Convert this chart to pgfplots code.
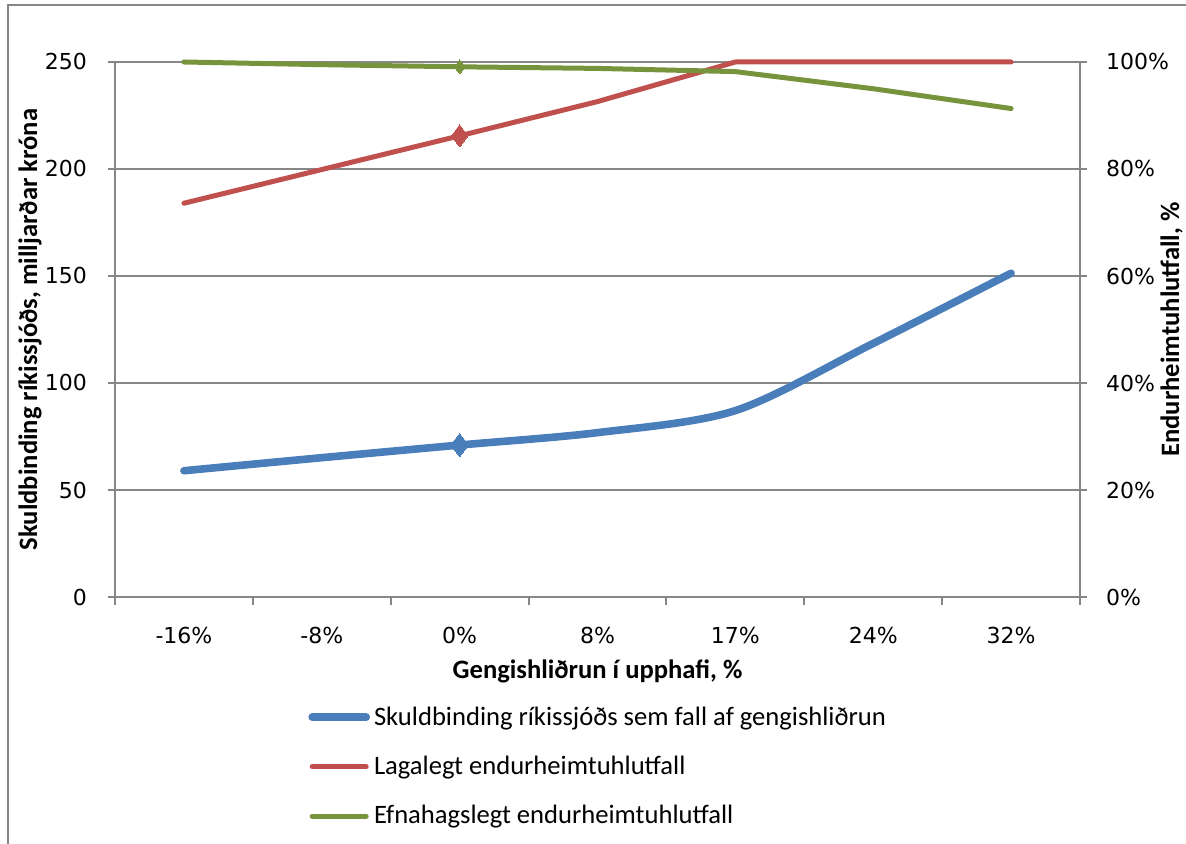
\documentclass[border=0pt]{standalone}
\usepackage{pgfplots}
\pgfplotsset{compat=1.18}
\usepackage{fontspec}
\setmainfont{Carlito}
\newfontfamily\dejavu{DejaVu Sans}
\definecolor{sblue}{HTML}{4A7EBB}
\definecolor{sred}{HTML}{C0504D}
\definecolor{sgreen}{HTML}{77933C}
\definecolor{gridgray}{HTML}{868686}
\pgfplotsset{
  common/.style={
    at={(57.5pt,123.5pt)}, anchor=south west,
    scale only axis, width=482.5pt, height=267.5pt,
    xmin=-0.5, xmax=6.5,
    axis line style={gridgray, line width=1pt},
    tick style={gridgray, line width=1pt},
    tick align=outside, major tick length=3.5pt, minor tick length=4pt,
    /pgf/number format/assume math mode=true,
    ticklabel style={font=\dejavu\fontsize{11}{13}\selectfont, text=black},
    label style={font=\bfseries\fontsize{13.3}{15}\selectfont},
  }
}
\begin{document}
\begin{tikzpicture}
\useasboundingbox (0,0) rectangle (593pt,422pt);
\draw[gridgray, line width=0.8pt] (4pt,0pt) -- (4pt,419.5pt) -- (593pt,419.5pt);
\begin{axis}[common,
  ymin=0, ymax=250,
  xtick={0,...,6},
  xticklabels={-16\%,-8\%,0\%,8\%,17\%,24\%,32\%},
  major x tick style={draw=none},
  minor xtick={-0.5,0.5,...,6.5},
  ytick={0,50,...,250},
  axis x line*=bottom, axis y line*=left,
  ymajorgrids, grid style={gridgray, line width=1pt},
  xticklabel style={yshift=-8pt},
  yticklabel style={xshift=-7pt},
  xlabel={Gengishliðrun í upphafi, \%},
  ylabel={Skuldbinding ríkissjóðs, milljarðar króna},
  xlabel style={at={(axis description cs:0.5,-0.140)}, anchor=center},
  ylabel style={at={(axis description cs:-0.088,0.5)}, anchor=center},
]
\addplot[sblue, line width=3.8pt, smooth, line cap=round, mark=diamond*, mark indices={3}, mark size=5.8pt, mark options={line width=0pt}]
  coordinates {(0,59.0) (1,65.1) (2,71.0) (3,76.8) (4,87.1) (5,118.5) (6,151.3)};
\end{axis}
\begin{axis}[common,
  ymin=0, ymax=100,
  axis y line*=right, axis x line=none,
  ytick={0,20,...,100},
  yticklabels={0\%,20\%,40\%,60\%,80\%,100\%},
  yticklabel style={xshift=6pt},
  ylabel={Endurheimtuhlutfall, \%},
  ylabel style={at={(axis description cs:1.095,0.5)}, anchor=center},
  clip=false,
  legend style={at={(axis description cs:0.2,-0.1965)}, anchor=north west,
    draw=none, fill=none, font=\fontsize{13.3}{15}\selectfont,
    row sep=10pt, inner sep=0pt,
    /tikz/every even column/.append style={column sep=1pt}},
  legend cell align=left,
  legend image code/.code={\draw[#1, line cap=round] (0pt,0pt) -- (27pt,0pt);},
]
\addlegendimage{sblue, line width=3.8pt}
\addlegendentry{Skuldbinding ríkissjóðs sem fall af gengishliðrun}
\addplot[sred, line width=2.5pt, line cap=round, line join=round, mark=diamond*, mark indices={3}, mark size=5.5pt, mark options={line width=0pt}]
  coordinates {(0,73.6) (1,79.9) (2,86.2) (3,92.6) (4,100) (5,100) (6,100)};
\addlegendentry{Lagalegt endurheimtuhlutfall}
\addplot[sgreen, line width=2.5pt, line cap=round, line join=round, mark=diamond*, mark indices={3}, mark size=3.5pt, mark options={line width=0pt}]
  coordinates {(0,100) (1,99.5) (2,99.1) (3,98.8) (4,98.2) (5,95.0) (6,91.3)};
\addlegendentry{Efnahagslegt endurheimtuhlutfall}
\end{axis}
\end{tikzpicture}
\end{document}
